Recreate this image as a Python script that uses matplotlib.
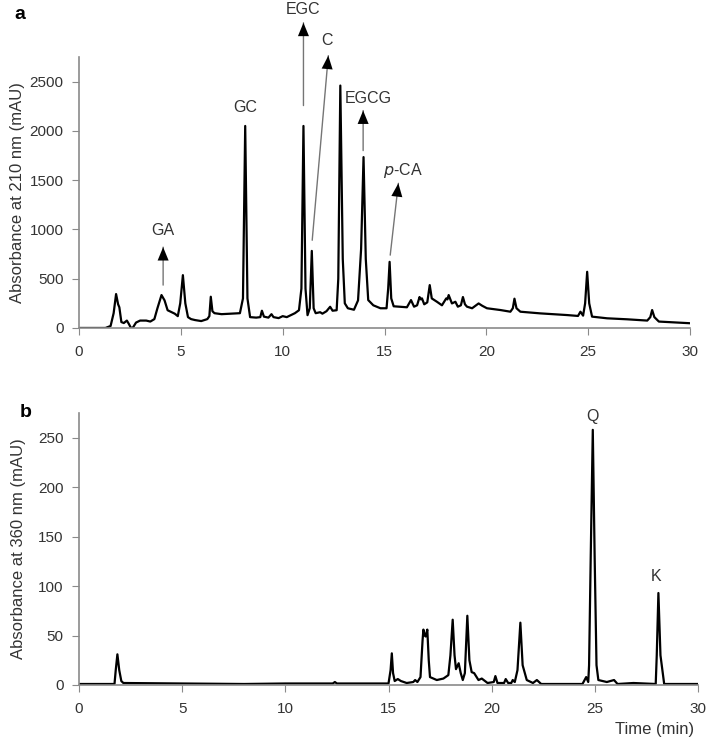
import matplotlib
matplotlib.use('Agg')
import matplotlib.pyplot as plt

plt.rcParams['font.family'] = ['Liberation Sans', 'DejaVu Sans']

# Chromatogram a (210 nm) - trace points
zeit_a = [0, 1.3, 1.55, 1.7, 1.82, 1.92, 1.98, 2.08, 2.2, 2.35, 2.45, 2.55, 2.65, 2.8, 3.0, 3.3, 3.5,
          3.7, 3.85, 4.05, 4.2, 4.35, 4.7, 4.85, 4.97, 5.1, 5.22, 5.35, 5.5, 5.7, 6.0, 6.3, 6.4,
          6.47, 6.55, 6.65, 7.0, 7.5, 7.9, 8.05, 8.16, 8.27, 8.4, 8.7, 8.9, 8.98, 9.08, 9.3, 9.45,
          9.55, 9.8, 10.0, 10.2, 10.4, 10.6, 10.8, 10.92, 11.02, 11.12, 11.22, 11.33, 11.43, 11.52,
          11.62, 11.84, 11.95, 12.15, 12.33, 12.45, 12.65, 12.73, 12.83, 12.95, 13.05, 13.2, 13.5,
          13.7, 13.85, 13.97, 14.08, 14.2, 14.45, 14.8, 15.1, 15.18, 15.25, 15.33, 15.45, 16.1,
          16.3, 16.45, 16.6, 16.72, 16.78, 16.84, 16.95, 17.1, 17.22, 17.32, 17.58, 17.82, 18.03,
          18.09, 18.15, 18.31, 18.48, 18.6, 18.75, 18.85, 18.95, 19.05, 19.3, 19.62, 19.8, 20.03,
          20.69, 21.18, 21.3, 21.38, 21.48, 21.67, 22.65, 23.96, 24.5, 24.62, 24.75, 24.85, 24.95,
          25.05, 25.19, 25.93, 26.91, 27.9, 28.05, 28.14, 28.25, 28.47, 30]
abs_a = [0, 0, 20, 150, 344, 240, 210, 60, 50, 75, 40, 0, 5, 55, 75, 75, 65,
         90, 200, 334, 280, 180, 145, 120, 250, 536, 250, 110, 90, 80, 70, 90, 120,
         317, 170, 150, 140, 145, 150, 300, 2050, 300, 110, 105, 110, 175, 115, 105, 140,
         110, 100, 120, 110, 130, 150, 180, 400, 2050, 400, 130, 200, 782, 200,
         150, 160, 145, 170, 215, 175, 180, 500, 2460, 700, 250, 200, 185,
         280, 800, 1734, 700, 283, 230, 200, 200, 400, 671, 300, 220, 210,
         283, 216, 230, 314, 290, 300, 240, 260, 435, 300, 265, 230, 300,
         290, 334, 249, 266, 216, 230, 314, 240, 216, 200, 249, 225, 200,
         182, 165, 200, 297, 200, 165, 148, 131, 122, 165, 125, 250, 570,
         250, 115, 98, 88, 75, 110, 182, 110, 65, 48]

# Chromatogram b (360 nm)
zeit_b = [0, 1.72, 1.78, 1.86, 1.95, 2.05, 2.15, 5, 8, 10, 12.3, 12.4, 12.5, 15.0, 15.1, 15.16,
          15.22, 15.3, 15.45, 15.6, 15.88, 16.2, 16.29, 16.4, 16.55, 16.65, 16.69, 16.76, 16.8,
          16.88, 16.95, 17.01, 17.34, 17.66, 17.9, 18.0, 18.11, 18.2, 18.27, 18.4, 18.5, 18.6,
          18.7, 18.82, 18.92, 19.03, 19.15, 19.36, 19.52, 19.8, 20.1, 20.18, 20.28, 20.6, 20.68,
          20.8, 20.95, 21.02, 21.12, 21.25, 21.39, 21.5, 21.7, 22.0, 22.19, 22.4, 24.4, 24.58,
          24.68, 24.72, 24.8, 24.9, 24.99, 25.08, 25.17, 25.58, 25.93, 26.1, 26.87, 27.95, 28.0,
          28.08, 28.18, 28.36, 30]
abs_b = [1, 1, 15, 31, 15, 4, 2, 1.5, 1, 1.5, 1.5, 3, 1.5, 1.5, 15, 32,
         12, 4, 6, 4, 2, 3, 5, 3, 8, 45, 56, 50, 49,
         56, 25, 8, 5, 6.5, 10, 30, 66, 30, 16, 22, 12, 5,
         12, 70, 25, 13, 12, 5, 6.5, 2, 3, 9, 2, 2, 6,
         2, 2, 5, 3, 15, 63, 20, 5, 2, 5, 1, 1, 8,
         3, 20, 130, 258, 130, 20, 5, 3, 5, 1, 2, 1, 30,
         93, 30, 1, 1]

# Peak-Beschriftungen: (text, text_x, text_y, pfeil_start, pfeil_ende)
labels_a = [
    ('GA', 4.13, 990, (4.13, 435), (4.13, 820)),
    ('GC', 8.15, 2240, None, None),
    ('EGC', 11.0, 3230, (11.02, 2257), (11.02, 3097)),
    ('C', 12.2, 2915, (11.45, 890), (12.24, 2763)),
    ('EGCG', 14.2, 2330, (13.95, 1800), (13.95, 2206)),
    ('$p$-CA', 15.9, 1600, (15.28, 739), (15.68, 1468)),
]
labels_b = [('Q', 24.87, 271), ('K', 27.97, 110)]

GRAU = '#8a8a8a'
TEXT = '#333333'


def achse_stylen(ax):
    for s in ['top', 'right']:
        ax.spines[s].set_visible(False)
    for s in ['left', 'bottom']:
        ax.spines[s].set_color(GRAU)
        ax.spines[s].set_linewidth(1.2)
    ax.tick_params(direction='out', length=5, color=GRAU, labelsize=11, labelcolor=TEXT)
    ax.tick_params(axis='y', pad=6)
    ax.tick_params(axis='x', pad=7)
    ax.set_xlim(0, 30)
    ax.set_xticks(range(0, 31, 5))


def pfeil(ax, start, ende):
    # grauer Schaft, schwarze Spitze
    ax.annotate('', xy=ende, xytext=start, annotation_clip=False,
                arrowprops=dict(arrowstyle='-', color='#777777', lw=1.0,
                                shrinkA=0, shrinkB=0))
    ax.annotate('', xy=ende, xytext=start, annotation_clip=False,
                arrowprops=dict(arrowstyle='-|>,head_length=0.8,head_width=0.33',
                                fc='black', ec='black', lw=0.01,
                                mutation_scale=12, shrinkA=0, shrinkB=0))


fig = plt.figure(figsize=(7.08, 7.41), dpi=100)

# Panel a
ax1 = fig.add_axes([0.1116, 0.5574, 0.863, 0.3657])
ax1.plot(zeit_a, abs_a, color='black', lw=1.6)
achse_stylen(ax1)
ax1.set_ylim(0, 2750)
ax1.set_yticks(range(0, 2501, 500))
ax1.set_ylabel('Absorbance at 210 nm (mAU)', fontsize=12, color=TEXT)
ax1.yaxis.set_label_coords(-0.088, 0.5)

for text, tx, ty, start, ende in labels_a:
    ax1.text(tx, ty, text, ha='center', va='center', fontsize=11.5, color=TEXT, clip_on=False)
    if start is not None:
        pfeil(ax1, start, ende)

fig.text(0.021, 0.981, 'a', fontsize=14, fontweight='bold', va='center')

# Panel b
ax2 = fig.add_axes([0.1116, 0.0756, 0.8743, 0.367])
ax2.plot(zeit_b, abs_b, color='black', lw=1.6)
achse_stylen(ax2)
ax2.set_ylim(0, 275)
ax2.set_yticks(range(0, 251, 50))
ax2.set_ylabel('Absorbance at 360 nm (mAU)', fontsize=12, color=TEXT)
ax2.yaxis.set_label_coords(-0.086, 0.5)

for text, tx, ty in labels_b:
    ax2.text(tx, ty, text, ha='center', va='center', fontsize=11.5, color=TEXT, clip_on=False)

fig.text(0.028, 0.443, 'b', fontsize=14, fontweight='bold', va='center')
fig.text(0.925, 0.016, 'Time (min)', fontsize=12, color=TEXT, ha='center', va='center')

plt.savefig('out.png', dpi=100)
